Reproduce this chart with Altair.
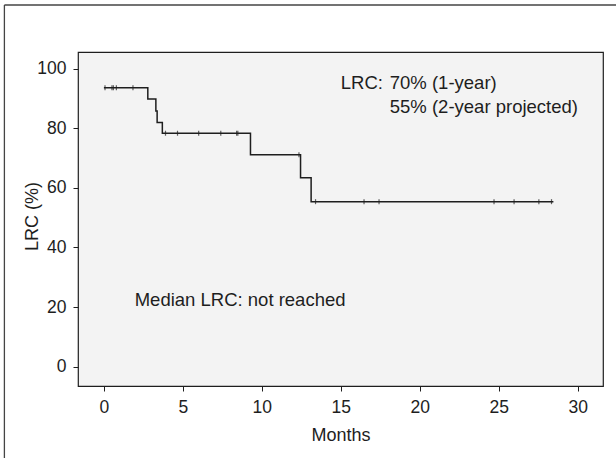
import altair as alt
import pandas as pd

# Kaplan-Meier step curve (months, LRC %)
step_months = [0.0, 2.78, 3.29, 3.37, 3.70, 9.28, 12.45, 13.12, 28.46]
step_lrc = [93.7, 89.9, 85.9, 82.0, 78.4, 71.2, 63.4, 55.4, 55.4]

# censored observations
censor_months = [0.07, 0.51, 0.60, 0.79, 1.84,
                 3.90, 4.66, 6.00, 7.40, 8.40, 8.48,
                 12.35,
                 13.40, 16.47, 17.42, 24.70, 25.97, 27.54, 28.34]
censor_lrc = [93.7, 93.7, 93.7, 93.7, 93.7,
              78.4, 78.4, 78.4, 78.4, 78.4, 78.4,
              71.2,
              55.4, 55.4, 55.4, 55.4, 55.4, 55.4, 55.4]

x_ticks = [0, 5, 10, 15, 20, 25, 30]
y_ticks = [0, 20, 40, 60, 80, 100]

FONT = "Liberation Sans"
INK = "#1e1e1e"

steps = pd.DataFrame({"Months": step_months, "LRC": step_lrc})
cens = pd.DataFrame({"Months": censor_months, "LRC": censor_lrc})

xscale = alt.Scale(domain=[-1.64, 31.6], nice=False, zero=False)
yscale = alt.Scale(domain=[-6.55, 105.7], nice=False, zero=False)

xaxis = alt.Axis(values=x_ticks, title="Months", grid=False, domain=False,
                 tickColor=INK, tickSize=5, labelPadding=7, labelFontSize=17.5,
                 labelFont=FONT, labelColor=INK, titleFont=FONT, titleFontSize=18,
                 titleFontWeight="normal", titleColor=INK, titleY=49,
                 titleBaseline="middle")
yaxis = alt.Axis(values=y_ticks, title="LRC (%)", grid=False, domain=False,
                 tickColor=INK, tickSize=5, labelPadding=7, labelFontSize=17.5,
                 labelFont=FONT, labelColor=INK, titleFont=FONT, titleFontSize=18,
                 titleFontWeight="normal", titleColor=INK, titleX=-46, titleY=164,
                 titleBaseline="middle")

line = alt.Chart(steps).mark_line(interpolate="step-after", color=INK, strokeWidth=1.5).encode(
    x=alt.X("Months:Q", scale=xscale, axis=xaxis),
    y=alt.Y("LRC:Q", scale=yscale, axis=yaxis),
)

ticks = alt.Chart(cens).mark_tick(orient="vertical", color=INK, size=5, thickness=1.2).encode(
    x=alt.X("Months:Q", scale=xscale),
    y=alt.Y("LRC:Q", scale=yscale),
)

def label(text, xm, ym):
    return alt.Chart().mark_text(text=text, align="left", baseline="middle", font=FONT,
                                 fontSize=18.5, color=INK).encode(
        x=alt.datum(xm, scale=xscale), y=alt.datum(ym, scale=yscale))

t1 = label("LRC:", 15.0, 95.2)
t2 = label("70% (1-year)", 18.1, 95.2)
t3 = label("55% (2-year projected)", 18.1, 87.3)
t4 = label("Median LRC: not reached", 1.95, 22.2)

# outer figure frame (left and top edges)
frame_left = alt.Chart().mark_rule(color="#444444", strokeWidth=1.3).encode(
    x=alt.value(-73.6), y=alt.value(-47), y2=alt.value(420))
frame_top = alt.Chart().mark_rule(color="#444444", strokeWidth=1.3).encode(
    x=alt.value(-73.6), x2=alt.value(560), y=alt.value(-47))

chart = alt.layer(frame_left, frame_top, line, ticks, t1, t2, t3, t4).properties(
    width=525, height=334,
    autosize=alt.AutoSizeParams(type="none"),
    padding={"left": 78, "top": 52, "right": 13, "bottom": 72},
    background="white",
).configure_view(fill="#f3f3f3", stroke=INK, strokeWidth=1.2)

chart.save("out.html", embed_options={"renderer": "svg", "actions": False})
